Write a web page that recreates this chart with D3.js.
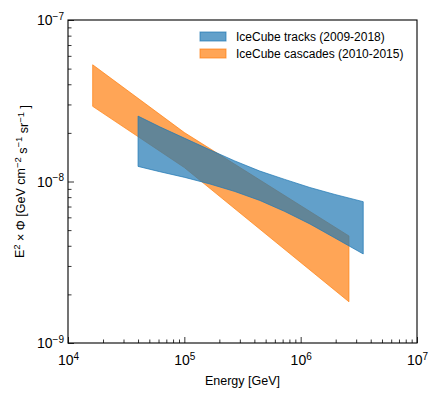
<!DOCTYPE html>
<html>
<head>
<meta charset="utf-8">
<script src="https://cdn.jsdelivr.net/npm/d3@7"></script>
<style>
  body { margin: 0; background: #fff; }
  text { font-family: "Liberation Sans", Arial, sans-serif; fill: #000; }
</style>
</head>
<body>
<div id="chart"></div>
<script>
// IceCube cascades (2010-2015) band
var cascE  = [1.63e4, 1e5, 2.6e6];
var cascHi = [5.28e-8, 2.01e-8, 4.6e-9];
var cascLo = [2.92e-8, 1.22e-8, 1.80e-9];

// IceCube tracks (2009-2018) band
var trackE  = [4.0e4, 6.15e4, 1.01e5, 1.66e5, 2.72e5, 4.46e5, 7.31e5, 1.2e6, 1.97e6, 3.45e6];
var trackHi = [2.54e-8, 2.18e-8, 1.85e-8, 1.57e-8, 1.34e-8, 1.16e-8, 1.03e-8, 9.18e-9, 8.31e-9, 7.50e-9];
var trackLo = [1.24e-8, 1.15e-8, 1.06e-8, 9.65e-9, 8.67e-9, 7.63e-9, 6.52e-9, 5.46e-9, 4.47e-9, 3.56e-9];

var xMajor = [1e4, 1e5, 1e6, 1e7];
var xExp = ["4", "5", "6", "7"];
var yMajor = [1e-9, 1e-8, 1e-7];
var yExp = ["\u22129", "\u22128", "\u22127"];

var seriesNames = ["IceCube tracks (2009-2018)", "IceCube cascades (2010-2015)"];
var seriesColors = ["#1f77b4", "#ff7f0e"];

var margin = {top: 20, right: 23, bottom: 53, left: 68},
    width = 440 - margin.left - margin.right,
    height = 396 - margin.top - margin.bottom;

var svg = d3.select("#chart").append("svg")
            .attr("width", 440)
            .attr("height", 396);

var chart = svg.append("g")
               .attr("transform", "translate(" + margin.left + "," + margin.top + ")");

var x = d3.scaleLog().domain([1e4, 1e7]).range([0, width]);
var y = d3.scaleLog().domain([1e-9, 1e-7]).range([height, 0]);

function minors(lo, hi) {
  var out = [];
  for (var p = lo; p < hi; p++) {
    for (var k = 2; k <= 9; k++) out.push(k * Math.pow(10, p));
  }
  return out;
}

// bands: cascades below, tracks on top
function band(E, lo, hi) {
  return d3.area()
           .x(function(d, i) { return x(E[i]); })
           .y0(function(d, i) { return y(lo[i]); })
           .y1(function(d, i) { return y(hi[i]); })(E);
}

chart.append("path")
     .attr("d", band(cascE, cascLo, cascHi))
     .attr("fill", seriesColors[1])
     .attr("fill-opacity", 0.7)
     .attr("stroke", seriesColors[1])
     .attr("stroke-opacity", 0.7)
     .attr("stroke-width", 1);

chart.append("path")
     .attr("d", band(trackE, trackLo, trackHi))
     .attr("fill", seriesColors[0])
     .attr("fill-opacity", 0.7)
     .attr("stroke", seriesColors[0])
     .attr("stroke-opacity", 0.7)
     .attr("stroke-width", 1);

// axes, ticks pointing inward
chart.append("g")
     .attr("transform", "translate(0," + height + ")")
     .call(d3.axisBottom(x).tickValues(minors(4, 7)).tickSize(-3.5).tickFormat(""))
     .call(function(g) { g.select(".domain").remove(); });

var xAx = chart.append("g")
     .attr("transform", "translate(0," + height + ")")
     .call(d3.axisBottom(x).tickValues(xMajor).tickSize(-6).tickPadding(9).tickFormat(""));
xAx.select(".domain").remove();
xAx.selectAll(".tick text").each(function(d, i) {
  var t = d3.select(this).attr("font-size", 14).attr("text-anchor", "middle").attr("dy", "0.9em");
  t.append("tspan").text("10");
  t.append("tspan").attr("dy", "-0.5em").attr("font-size", 10).text(xExp[i]);
});

chart.append("g")
     .call(d3.axisLeft(y).tickValues(minors(-9, -7)).tickSize(-3.5).tickFormat(""))
     .call(function(g) { g.select(".domain").remove(); });

var yAx = chart.append("g")
     .call(d3.axisLeft(y).tickValues(yMajor).tickSize(-6).tickPadding(4).tickFormat(""));
yAx.select(".domain").remove();
yAx.selectAll(".tick text").each(function(d, i) {
  var t = d3.select(this).attr("font-size", 14).attr("text-anchor", "end").attr("dy", "0.35em");
  t.append("tspan").text("10");
  t.append("tspan").attr("dy", "-0.55em").attr("font-size", 10).text(yExp[i]);
});

chart.selectAll(".tick line").attr("stroke", "#000").attr("stroke-width", 0.8);

// frame
chart.append("rect")
     .attr("width", width)
     .attr("height", height)
     .attr("fill", "none")
     .attr("stroke", "#000")
     .attr("stroke-width", 1.1);

// axis labels
chart.append("text")
     .attr("x", width / 2)
     .attr("y", height + 42)
     .attr("text-anchor", "middle")
     .attr("font-size", 12.5)
     .text("Energy [GeV]");

var yl = chart.append("text")
     .attr("transform", "translate(-44," + (height / 2) + ") rotate(-90)")
     .attr("text-anchor", "middle")
     .attr("font-size", 12.5);
var parts = [["E", null], ["2", "up"], [" \u00d7 \u03a6 [GeV cm", "down"], ["\u22122", "up"],
             [" s", "down"], ["\u22121", "up"], [" sr", "down"], ["\u22121", "up"], [" ]", "down"]];
parts.forEach(function(p) {
  var ts = yl.append("tspan").text(p[0]);
  if (p[1] == "up") ts.attr("dy", "-0.45em").attr("font-size", 9.5);
  else if (p[1] == "down") ts.attr("dy", "0.45em").attr("font-size", 12.5);
});

// legend
var leg = chart.selectAll(".legend")
     .data(seriesNames)
     .enter()
     .append("g")
     .attr("class", "legend")
     .attr("transform", function(d, i) { return "translate(132," + (12 + i * 17) + ")"; });

leg.append("rect")
   .attr("width", 26)
   .attr("height", 9)
   .attr("fill", function(d, i) { return seriesColors[i]; })
   .attr("fill-opacity", 0.7)
   .attr("stroke", function(d, i) { return seriesColors[i]; })
   .attr("stroke-opacity", 0.7);

leg.append("text")
   .attr("x", 36)
   .attr("y", 9)
   .attr("font-size", 12)
   .text(function(d) { return d; });
</script>
</body>
</html>
